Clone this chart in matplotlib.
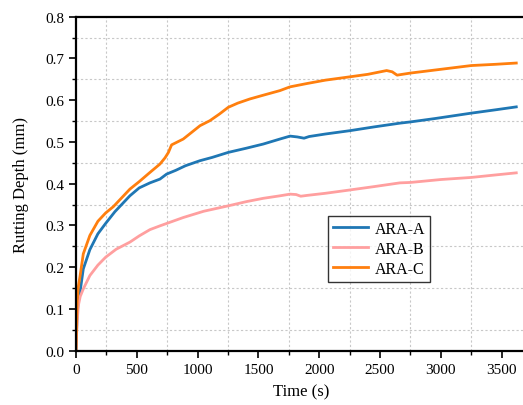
import matplotlib
matplotlib.use("Agg")
import matplotlib.pyplot as plt
from matplotlib.ticker import MultipleLocator, FixedLocator

plt.rcParams["font.family"] = ["Liberation Serif", "DejaVu Serif"]

# Values (time in s, depth in mm).
t_a = [0, 5, 10, 20, 33, 60, 114, 180, 244, 320, 443, 520, 608, 690, 745,
       820, 900, 1018, 1120, 1252, 1400, 1540, 1677, 1760, 1820, 1875, 1917,
       2050, 2252, 2450, 2663, 2750, 2950, 3250, 3450, 3620]
ara_a = [0.0, 0.05, 0.09, 0.12, 0.14, 0.196, 0.242, 0.28, 0.305, 0.333,
         0.371, 0.39, 0.402, 0.411, 0.423, 0.432, 0.443, 0.455, 0.463, 0.475,
         0.485, 0.495, 0.507, 0.514, 0.512, 0.509, 0.513, 0.519, 0.527, 0.536,
         0.545, 0.548, 0.556, 0.569, 0.577, 0.584]

t_b = [0, 5, 10, 19, 35, 60, 114, 180, 244, 330, 443, 520, 608, 690, 882,
       1050, 1252, 1400, 1540, 1677, 1760, 1810, 1848, 1900, 2050, 2252,
       2450, 2663, 2750, 3000, 3250, 3450, 3620]
ara_b = [0.0, 0.04, 0.07, 0.108, 0.13, 0.148, 0.18, 0.205, 0.224, 0.243,
         0.26, 0.275, 0.29, 0.299, 0.319, 0.334, 0.347, 0.357, 0.365, 0.371,
         0.375, 0.374, 0.37, 0.372, 0.377, 0.385, 0.393, 0.402, 0.403, 0.41,
         0.415, 0.421, 0.426]

t_c = [0, 5, 10, 20, 33, 60, 114, 180, 244, 307, 443, 520, 608, 690, 732,
       760, 786, 882, 1020, 1101, 1180, 1252, 1330, 1430, 1540, 1677, 1760,
       1900, 2050, 2252, 2400, 2554, 2600, 2640, 2750, 3000, 3250, 3450,
       3620]
ara_c = [0.0, 0.07, 0.12, 0.155, 0.178, 0.232, 0.276, 0.31, 0.33, 0.345,
         0.387, 0.405, 0.427, 0.447, 0.462, 0.475, 0.493, 0.507, 0.539, 0.551,
         0.567, 0.583, 0.593, 0.603, 0.612, 0.623, 0.632, 0.640, 0.648, 0.656,
         0.662, 0.671, 0.668, 0.66, 0.665, 0.674, 0.683, 0.686, 0.689]

series = [("ARA-A", t_a, ara_a, "#1f77b4"),
          ("ARA-B", t_b, ara_b, "#ff9f9f"),
          ("ARA-C", t_c, ara_c, "#ff7f0e")]

# Minor ticks (and grid) only between the major ticks.
x_minor = [250, 750, 1250, 1750, 2250, 2750, 3250]
y_minor = [0.05, 0.15, 0.25, 0.35, 0.45, 0.55, 0.65, 0.75]

fig = plt.figure(figsize=(5.23, 4.06), dpi=100)
ax = fig.add_axes([76 / 523, 54.3 / 406, 450 / 523, 334 / 406])

for name, t, y, color in series:
    ax.plot(t, y, color=color, linewidth=2.0, label=name)

ax.set_xlim(0, 3700)
ax.set_ylim(0, 0.8)
ax.xaxis.set_major_locator(MultipleLocator(500))
ax.xaxis.set_minor_locator(FixedLocator(x_minor))
ax.yaxis.set_major_locator(MultipleLocator(0.1))
ax.yaxis.set_minor_locator(FixedLocator(y_minor))
ax.yaxis.set_major_formatter(plt.FormatStrFormatter("%.1f"))

# Grid only on the minor ticks, like Origin.
ax.xaxis.grid(False, which="major")
ax.yaxis.grid(False, which="major")
ax.grid(True, which="minor", color="#c8c8c8", linestyle=(0, (2, 2)),
        linewidth=0.8)

for side in ["left", "bottom", "top"]:
    ax.spines[side].set_linewidth(1.6)
ax.spines["right"].set_visible(False)

ax.tick_params(which="major", direction="out", length=5, width=1.2,
               labelsize=11, top=False, right=False)
ax.tick_params(which="minor", direction="out", length=3, width=1.0,
               top=False, right=False)

ax.set_xlabel("Time (s)", fontsize=12, labelpad=6)
ax.set_ylabel("Rutting Depth (mm)", fontsize=12, labelpad=12)

leg = ax.legend(loc="center", bbox_to_anchor=(0.674, 0.305), fontsize=11.5,
                frameon=True, fancybox=False, edgecolor="black",
                handlelength=2.2, labelspacing=0.25, borderpad=0.3,
                handletextpad=0.4)
leg.get_frame().set_linewidth(1.0)

fig.savefig("out.png", dpi=100)
